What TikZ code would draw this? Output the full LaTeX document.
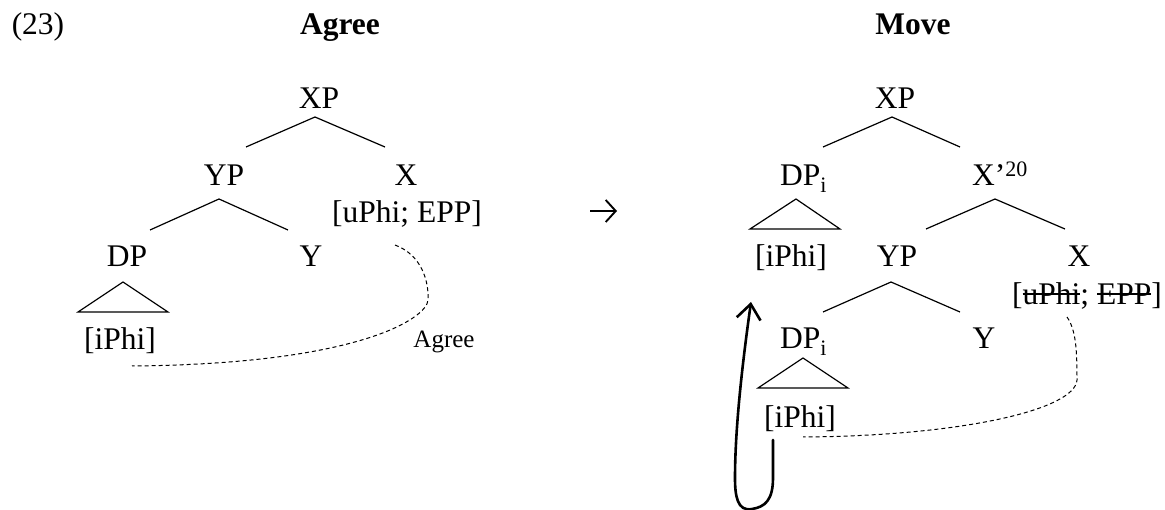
\documentclass[tikz,border=0pt]{standalone}
\usepackage{fontspec}
\setmainfont{Liberation Serif}
\usetikzlibrary{arrows.meta}
% struck-through text
\newsavebox\strkbox
\newcommand\strk[1]{\sbox\strkbox{#1}\rlap{\rule[0.33em]{\wd\strkbox}{1.3pt}}\usebox\strkbox}
\begin{document}
\begin{tikzpicture}[x=1pt,y=-1pt,
  lbl/.style={inner sep=0pt,anchor=base,font=\fontsize{31.5}{36}\selectfont},
  lblw/.style={lbl,anchor=base west},
  branch/.style={line width=1.2pt},
  agreeline/.style={line width=1pt,dash pattern=on 4pt off 3pt},
  derives/.style={line width=1.9pt,-{Straight Barb[length=10pt,width=22pt,line width=1.9pt]}},
  movearrow/.style={line width=2.6pt,line cap=round,-{Straight Barb[length=15pt,width=24pt,line width=2.6pt]}}]
\useasboundingbox (0,0) rectangle (1165,510);

% headings
\node[lbl] (num) at (38,35) {(23)};
\node[lbl,font=\fontsize{31.5}{36}\selectfont\bfseries] (hagree) at (340,35) {Agree};
\node[lbl,font=\fontsize{31.5}{36}\selectfont\bfseries] (hmove) at (913,35) {Move};

% derivation step between the trees
\coordinate (toS) at (590,211);
\coordinate (toE) at (617,211);
\draw[derives] (toS) -- (toE);

% ---------- Agree tree ----------
\node[lbl] (axp) at (319,109) {XP};
\node[lbl] (ayp) at (224,186) {YP};
\node[lbl] (ax) at (406,186) {X};
\node[lbl] (afeat) at (407,223) {[uPhi; EPP]};
\node[lbl] (adp) at (127,267) {DP};
\node[lbl] (ay) at (311,267) {Y};
\node[lbl] (aiphi) at (120,350) {[iPhi]};
\node[lbl,font=\fontsize{25}{30}\selectfont] (aagree) at (444,348) {Agree};

\coordinate (axpA) at (315,117);
\coordinate (axpL) at (246,147);
\coordinate (axpR) at (385,147);
\coordinate (aypA) at (219,199);
\coordinate (aypL) at (150,230);
\coordinate (aypR) at (288,230);
\coordinate (adpA) at (123,282);
\coordinate (adpL) at (78,312);
\coordinate (adpR) at (168,312);
\draw[branch] (axpL) -- (axpA) -- (axpR);
\draw[branch] (aypL) -- (aypA) -- (aypR);
\draw[branch] (adpL) -- (adpA) -- (adpR) -- cycle;

\coordinate (aagS) at (395,245);
\coordinate (aagM) at (428,300);
\coordinate (aagE) at (132,366);
\draw[agreeline] (aagS) .. controls (422,255) and (429,282) .. (aagM)
  .. controls (427,318) and (360,364) .. (aagE);

% ---------- Move tree ----------
\node[lbl] (mxp) at (895,109) {XP};
\node[lblw] (mdp) at (780,186) {DP\textsubscript{i}};
\node[lblw] (mxbar) at (972,186) {X’\textsuperscript{20}};
\node[lbl] (miphiU) at (791,267) {[iPhi]};
\node[lbl] (myp) at (897,267) {YP};
\node[lbl] (mx) at (1079,267) {X};
\node[lbl] (mfeat) at (1087,305) {[\strk{uPhi}; \strk{EPP}]};
\node[lblw] (mdpL) at (780,349) {DP\textsubscript{i}};
\node[lbl] (my) at (984,349) {Y};
\node[lbl] (miphiL) at (800,428) {[iPhi]};

\coordinate (mxpA) at (892,117);
\coordinate (mxpL) at (823,147);
\coordinate (mxpR) at (960,147);
\coordinate (mdpA) at (796,199);
\coordinate (mdpBL) at (750,229);
\coordinate (mdpBR) at (840,229);
\coordinate (mxbA) at (995,199);
\coordinate (mxbL) at (926,229);
\coordinate (mxbR) at (1065,229);
\coordinate (mypA) at (891,282);
\coordinate (mypL) at (823,312);
\coordinate (mypR) at (960,312);
\coordinate (mdlA) at (803,358);
\coordinate (mdlL) at (758,388);
\coordinate (mdlR) at (848,388);
\draw[branch] (mxpL) -- (mxpA) -- (mxpR);
\draw[branch] (mdpBL) -- (mdpA) -- (mdpBR) -- cycle;
\draw[branch] (mxbL) -- (mxbA) -- (mxbR);
\draw[branch] (mypL) -- (mypA) -- (mypR);
\draw[branch] (mdlL) -- (mdlA) -- (mdlR) -- cycle;

\coordinate (magS) at (1067,317);
\coordinate (magM) at (1077,380);
\coordinate (magE) at (803,437);
\draw[agreeline] (magS) .. controls (1076,330) and (1077,350) .. (magM)
  .. controls (1075,410) and (960,436) .. (magE);

% movement of DP
\coordinate (mvS) at (773,440);
\coordinate (mvE) at (751,302);
\draw[movearrow] (mvS) -- (773,478) .. controls (773,500) and (765,507) .. (752,509)
  .. controls (737,512) and (735,495) .. (735,478)
  .. controls (735,420) and (745,345) .. (mvE);
\end{tikzpicture}
\end{document}
